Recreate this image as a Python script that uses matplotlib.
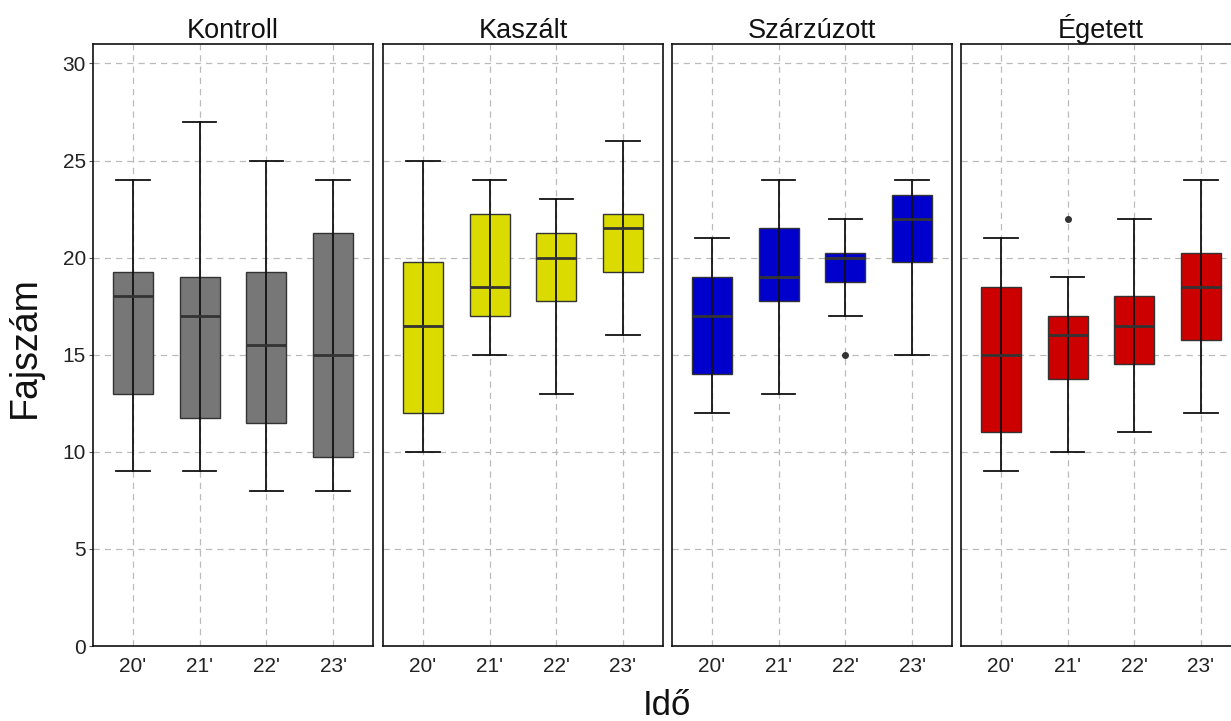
import matplotlib
matplotlib.use("Agg")
import matplotlib.pyplot as plt

plt.rcParams['font.family'] = ['Liberation Sans', 'DejaVu Sans']

# values
treatments = ['Kontroll', 'Kaszált', 'Szárzúzott', 'Égetett']
years = ["20'", "21'", "22'", "23'"]
colors = ['#777777', '#dbdb00', '#0000cd', '#cd0000']

whis_lo = {
    'Kontroll':   [9, 9, 8, 8],
    'Kaszált':    [10, 15, 13, 16],
    'Szárzúzott': [12, 13, 17, 15],
    'Égetett':    [9, 10, 11, 12],
}
q1 = {
    'Kontroll':   [13, 11.75, 11.5, 9.75],
    'Kaszált':    [12, 17, 17.75, 19.25],
    'Szárzúzott': [14, 17.75, 18.75, 19.75],
    'Égetett':    [11, 13.75, 14.5, 15.75],
}
median = {
    'Kontroll':   [18, 17, 15.5, 15],
    'Kaszált':    [16.5, 18.5, 20, 21.5],
    'Szárzúzott': [17, 19, 20, 22],
    'Égetett':    [15, 16, 16.5, 18.5],
}
q3 = {
    'Kontroll':   [19.25, 19, 19.25, 21.25],
    'Kaszált':    [19.75, 22.25, 21.25, 22.25],
    'Szárzúzott': [19, 21.5, 20.25, 23.25],
    'Égetett':    [18.5, 17, 18, 20.25],
}
whis_hi = {
    'Kontroll':   [24, 27, 25, 24],
    'Kaszált':    [25, 24, 23, 26],
    'Szárzúzott': [21, 24, 22, 24],
    'Égetett':    [21, 19, 22, 24],
}
outliers = {
    'Kontroll':   [[], [], [], []],
    'Kaszált':    [[], [], [], []],
    'Szárzúzott': [[], [], [15], []],
    'Égetett':    [[], [22], [], []],
}

W, H = 1231, 721
fig = plt.figure(figsize=(W / 100, H / 100), dpi=100)

panel_left = [93, 383, 672, 961]
panel_w = 280
top_px, bot_px = 44, 646

positions = [1, 2, 3, 4]
for k, t in enumerate(treatments):
    ax = fig.add_axes([panel_left[k] / W, 1 - bot_px / H, panel_w / W, (bot_px - top_px) / H])
    stats = []
    for i in range(4):
        stats.append(dict(med=median[t][i], q1=q1[t][i], q3=q3[t][i],
                          whislo=whis_lo[t][i], whishi=whis_hi[t][i],
                          fliers=outliers[t][i]))
    bp = ax.bxp(stats, positions=positions, widths=0.6, patch_artist=True,
                capwidths=0.5, showfliers=True,
                boxprops=dict(edgecolor='#333333', linewidth=1.0),
                medianprops=dict(color='#333333', linewidth=2.0),
                whiskerprops=dict(color='#111111', linewidth=1.3),
                capprops=dict(color='#111111', linewidth=1.3),
                flierprops=dict(marker='o', markersize=4, markerfacecolor='#333333',
                                markeredgecolor='#333333'))
    for p in bp['boxes']:
        p.set_facecolor(colors[k])
        p.set_zorder(2)
    # whisker line runs through the box
    ax.vlines(positions, q1[t], q3[t], colors='#111111', linewidth=1.3, zorder=3)
    for m in bp['medians']:
        m.set_zorder(4)

    ax.set_xlim(0.4, 4.6)
    ax.set_ylim(0, 31)
    ax.set_yticks([0, 5, 10, 15, 20, 25, 30])
    ax.set_xticks(positions)
    ax.set_xticklabels(years)
    ax.grid(True, color='#bbbbbb', linestyle=(0, (5, 4)), linewidth=0.9)
    ax.set_axisbelow(True)
    for s in ax.spines.values():
        s.set_linewidth(1.2)
        s.set_color('#111111')
    ax.tick_params(axis='x', length=0, pad=8, labelsize=15, labelcolor='#222222')
    ax.tick_params(axis='y', length=3, width=0.8, color='#555555', pad=2,
                   labelsize=15, labelcolor='#222222')
    if k > 0:
        ax.tick_params(axis='y', left=False, labelleft=False)
    ax.set_title(t, fontsize=19.5, pad=4, color='#111111')

fig.text(25 / W, 1 - 347 / H, 'Fajszám', rotation=90, fontsize=27,
         ha='center', va='center', color='#111111')
fig.text(667 / W, 1 - 715 / H, 'Idő', fontsize=25, ha='center', va='baseline',
         color='#111111')

fig.savefig('out.png', dpi=100)
